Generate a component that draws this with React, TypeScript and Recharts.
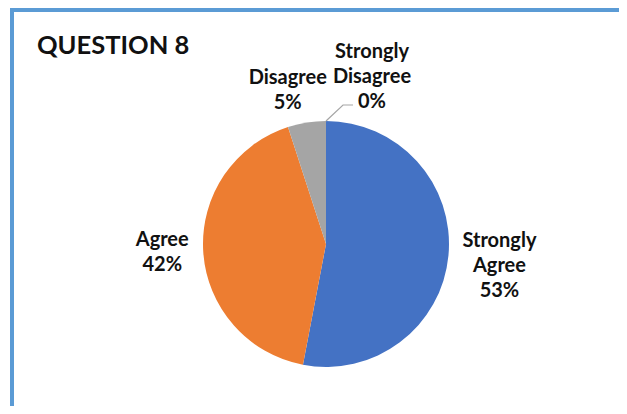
import { Cell, Pie, PieChart } from "recharts";

const RESPONSES = ["Strongly Agree", "Agree", "Disagree", "Strongly Disagree"];
const SHARES = [53, 42, 5, 0];
const COLORS = ["#4472C4", "#ED7D31", "#A5A5A5", "#FFC000"];

const TITLE = "QUESTION 8";

const data = RESPONSES.map((name, i) => ({ name, value: SHARES[i] }));

// label placement relative to the slice's outer edge (Excel "best fit" look)
const LABEL_OFFSET: Record<string, { dx: number; dy: number; leader?: boolean }> = {
  "Strongly Agree": { dx: 51, dy: -9 },
  Agree: { dx: -41, dy: -6 },
  Disagree: { dx: -19, dy: -39 },
  "Strongly Disagree": { dx: 46, dy: -63, leader: true },
};

const RAD = Math.PI / 180;
const LINE_H = 25;

function renderLabel(props: any) {
  const { cx, cy, midAngle, outerRadius, name, percent } = props;
  const ex = cx + outerRadius * Math.cos(-midAngle * RAD);
  const ey = cy + outerRadius * Math.sin(-midAngle * RAD);
  const off = LABEL_OFFSET[name] ?? { dx: 0, dy: 0 };
  const x = ex + off.dx;
  const y = ey + off.dy;
  const lines = [...String(name).split(" "), `${Math.round(percent * 100)}%`];
  return (
    <g key={name}>
      {off.leader && (
        <polyline
          points={`${ex},${ey} ${ex + 17},${ey - 16} ${ex + 27},${ey - 16}`}
          fill="none"
          stroke="#A6A6A6"
          strokeWidth={1.2}
        />
      )}
      <text
        x={x}
        y={y}
        textAnchor="middle"
        fontFamily="Lato, 'Open Sans', sans-serif"
        fontWeight={700}
        fontSize={20}
        fill="#111"
      >
        {lines.map((line, i) => (
          <tspan key={i} x={x} dy={i === 0 ? 0 : LINE_H}>
            {line}
          </tspan>
        ))}
      </text>
    </g>
  );
}

export default function App() {
  return (
    <div
      style={{
        position: "relative",
        width: 627,
        height: 414,
        margin: -8,
        overflow: "hidden",
        background: "#fff",
      }}
    >
      <style>{`.recharts-pie-sectors { filter: drop-shadow(1px 3px 3px rgba(0,0,0,0.22)); }`}</style>
      <div
        style={{
          position: "absolute",
          left: 10,
          top: 8,
          width: 700,
          height: 500,
          borderLeft: "4.5px solid #5B9BD5",
          borderTop: "4.5px solid #5B9BD5",
        }}
      />
      <div
        style={{
          position: "absolute",
          left: 37,
          top: 31,
          fontFamily: "Lato, 'Open Sans', sans-serif",
          fontWeight: 700,
          fontSize: 25.5,
          lineHeight: "26px",
          color: "#111",
          whiteSpace: "nowrap",
        }}
      >
        {TITLE}
      </div>
      <div style={{ position: "absolute", left: 0, top: 0 }}>
        <PieChart width={627} height={414} margin={{ top: 0, right: 0, bottom: 0, left: 0 }}>
          <Pie
            data={data}
            dataKey="value"
            nameKey="name"
            cx={326}
            cy={244}
            outerRadius={123}
            startAngle={90}
            endAngle={-270}
            stroke="none"
            label={renderLabel}
            labelLine={false}
            isAnimationActive={false}
          >
            {data.map((d, i) => (
              <Cell key={d.name} fill={COLORS[i]} />
            ))}
          </Pie>
        </PieChart>
      </div>
    </div>
  );
}
